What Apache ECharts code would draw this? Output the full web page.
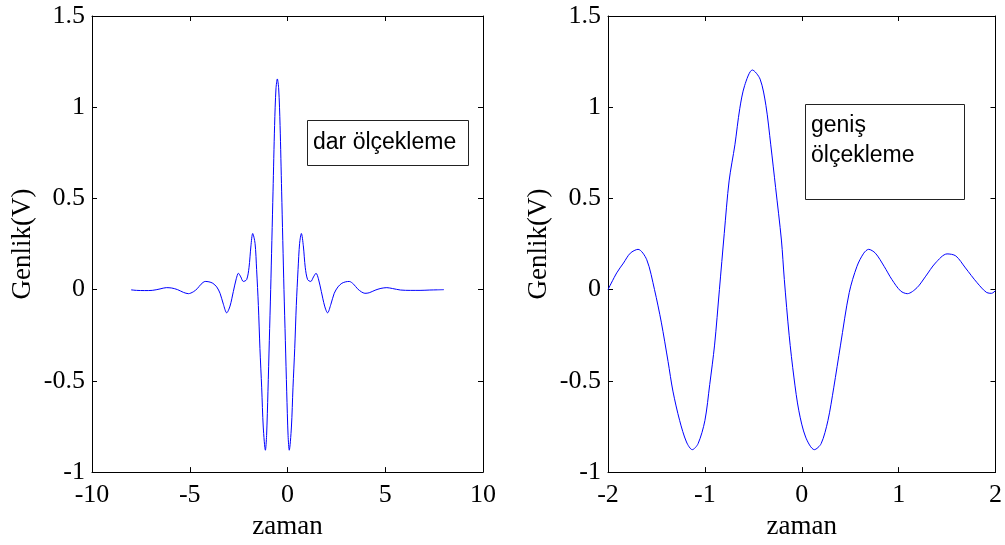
<!DOCTYPE html>
<html>
<head>
<meta charset="utf-8">
<script src="https://cdn.jsdelivr.net/npm/echarts@6/dist/echarts.min.js"></script>
<style>
html,body{margin:0;padding:0;background:#fff;}
#chart{width:1005px;height:545px;}
</style>
</head>
<body>
<div id="chart"></div>
<script>
// ---- data ----
const leftX = [-8.00,-7.72,-7.32,-6.92,-6.52,-6.20,-5.92,-5.62,-5.32,-5.07,-4.82,-4.62,-4.42,-4.21,-4.02,-3.82,-3.62,-3.45,-3.28,-3.11,-2.94,-2.77,-2.62,-2.51,-2.39,-2.26,-2.09,-1.97,-1.87,-1.78,-1.66,-1.58,-1.49,-1.41,-1.32,-1.24,-1.13,-1.07,-1.00,-0.93,-0.86,-0.74,-0.66,-0.59,-0.52,-0.45,-0.38,-0.30,-0.18,-0.11,-0.04,0.03,0.09,0.20,0.28,0.37,0.45,0.54,0.62,0.71,0.81,0.91,1.03,1.19,1.33,1.46,1.58,1.73,1.90,2.05,2.22,2.39,2.58,2.78,2.98,3.16,3.38,3.58,3.78,3.96,4.18,4.48,4.78,5.08,5.38,5.78,6.28,6.78,7.28,7.68,8.00];
const leftY = [-0.001,-0.004,-0.005,-0.004,0.004,0.011,0.009,0.000,-0.015,-0.022,-0.012,0.005,0.030,0.045,0.043,0.035,0.015,-0.020,-0.080,-0.127,-0.090,-0.010,0.060,0.090,0.070,0.045,0.055,0.120,0.240,0.308,0.254,0.111,-0.087,-0.322,-0.538,-0.753,-0.880,-0.800,-0.560,-0.280,0.000,0.540,0.900,1.100,1.155,1.100,0.900,0.540,0.000,-0.280,-0.560,-0.800,-0.880,-0.753,-0.538,-0.322,-0.087,0.111,0.254,0.308,0.240,0.120,0.055,0.045,0.070,0.090,0.060,-0.010,-0.090,-0.127,-0.080,-0.020,0.015,0.035,0.043,0.045,0.030,0.005,-0.012,-0.020,-0.017,-0.003,0.007,0.011,0.006,-0.002,-0.004,-0.004,-0.002,-0.001,0.000];

const rightX = [-2.00,-1.91,-1.84,-1.77,-1.69,-1.60,-1.52,-1.45,-1.38,-1.33,-1.26,-1.19,-1.13,-1.07,-1.00,-0.95,-0.90,-0.85,-0.80,-0.75,-0.69,-0.64,-0.59,-0.51,-0.43,-0.37,-0.32,-0.27,-0.21,-0.18,-0.13,-0.08,-0.03,0.04,0.13,0.20,0.27,0.33,0.40,0.49,0.57,0.64,0.69,0.76,0.85,0.93,1.02,1.09,1.19,1.28,1.38,1.50,1.59,1.69,1.81,1.91,1.96,2.00];
const rightY = [0.000,0.092,0.146,0.200,0.221,0.164,0.000,-0.178,-0.394,-0.556,-0.718,-0.835,-0.877,-0.844,-0.718,-0.520,-0.304,0.000,0.308,0.596,0.794,0.992,1.118,1.204,1.154,1.010,0.794,0.560,0.272,0.056,-0.250,-0.484,-0.664,-0.808,-0.877,-0.844,-0.718,-0.538,-0.304,-0.016,0.128,0.200,0.221,0.200,0.128,0.056,-0.007,-0.022,0.011,0.074,0.146,0.196,0.185,0.119,0.038,-0.016,-0.020,-0.005];

const leftXTicks = {min:-10, max:10, step:5};
const rightXTicks = {min:-2, max:2, step:1};
const yTicks = {min:-1, max:1.5, step:0.5};
const xName = 'zaman';
const yName = 'Genlik(V)';
const leftLegend = ['dar ölçekleme'];
const rightLegend = ['geniş', 'ölçekleme'];

// ---- chart ----
const serif = 'Liberation Serif';
const chart = echarts.init(document.getElementById('chart'), null, {renderer:'canvas'});

function xAx(gi, t, pos, main){
  return {
    type:'value', gridIndex:gi, position:pos, min:t.min, max:t.max, interval:t.step,
    axisLine:{show:true, onZero:false, lineStyle:{color:'#000', width:1}},
    axisTick:{show:true, inside:true, length:5, lineStyle:{color:'#000'}},
    splitLine:{show:false},
    axisLabel:{show:main, color:'#000', fontFamily:serif, fontSize:26, margin:10, showMinLabel:true, showMaxLabel:true},
    name: main ? xName : '', nameLocation:'middle', nameGap:39,
    nameTextStyle:{color:'#000', fontFamily:serif, fontSize:27}
  };
}
function yAx(gi, pos, main){
  return {
    type:'value', gridIndex:gi, position:pos, min:yTicks.min, max:yTicks.max, interval:yTicks.step,
    axisLine:{show:true, onZero:false, lineStyle:{color:'#000', width:1}},
    axisTick:{show:true, inside:true, length:5, lineStyle:{color:'#000'}},
    splitLine:{show:false},
    axisLabel:{show:main, color:'#000', fontFamily:serif, fontSize:26, margin:7, showMinLabel:true, showMaxLabel:true},
    name: main ? yName : '', nameLocation:'middle', nameGap:56,
    nameTextStyle:{color:'#000', fontFamily:serif, fontSize:27}
  };
}

const option = {
  backgroundColor:'#fff',
  animation:false,
  grid:[
    {left:92, top:16, width:391, height:463},
    {left:608, top:16, width:389, height:463}
  ],
  xAxis:[xAx(0,leftXTicks,'bottom',true), xAx(0,leftXTicks,'top',false), xAx(1,rightXTicks,'bottom',true), xAx(1,rightXTicks,'top',false)],
  yAxis:[yAx(0,'left',true), yAx(0,'right',false), yAx(1,'left',true), yAx(1,'right',false)],
  series:[
    {type:'line', xAxisIndex:0, yAxisIndex:0, data:leftX.map((x,i)=>[x,leftY[i]]), showSymbol:false, smooth:0.3,
     lineStyle:{color:'#0000ff', width:1}, itemStyle:{color:'#0000ff'}},
    {type:'line', xAxisIndex:2, yAxisIndex:2, data:rightX.map((x,i)=>[x,rightY[i]]), showSymbol:false, smooth:0.3,
     lineStyle:{color:'#0000ff', width:1}, itemStyle:{color:'#0000ff'}}
  ],
  graphic:[
    {type:'rect', shape:{x:307.5, y:120.5, width:161, height:45}, style:{fill:'#fff', stroke:'#222', lineWidth:1}, z:100},
    {type:'text', x:313, y:143, style:{text:leftLegend[0], font:'23px "Liberation Sans"', fill:'#000', textVerticalAlign:'middle'}, z:101},
    {type:'rect', shape:{x:805.5, y:104.5, width:159, height:95}, style:{fill:'#fff', stroke:'#222', lineWidth:1}, z:100},
    {type:'text', x:811, y:126, style:{text:rightLegend[0], font:'23px "Liberation Sans"', fill:'#000', textVerticalAlign:'middle'}, z:101},
    {type:'text', x:811, y:156, style:{text:rightLegend[1], font:'23px "Liberation Sans"', fill:'#000', textVerticalAlign:'middle'}, z:101}
  ]
};
chart.setOption(option);
</script>
</body>
</html>
